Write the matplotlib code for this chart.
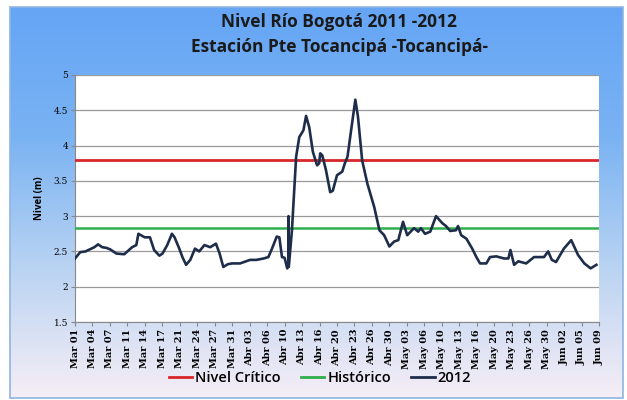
import numpy as np
import matplotlib.pyplot as plt
from matplotlib.colors import LinearSegmentedColormap
from matplotlib.lines import Line2D

# dias desde Mar 01 y nivel leido (m)
dias = [0, 1, 2, 3.7, 4.4, 5.2, 6, 6.7, 7.9, 9.4, 10, 10.9, 11.7, 12.1, 13.3, 14.3,
        15.1, 16.1, 16.7, 17.6, 18.5, 19, 19.9, 20.5, 21.2, 22, 22.9, 23.7, 24.7, 25.8,
        26.9, 27.6, 28.3, 29.2, 30, 31.5, 33.4, 34.6, 36, 36.9, 37.6, 38.5, 39, 39.5,
        40, 40.5, 40.7, 40.75, 40.8, 41.4, 42.2, 42.8, 43.3, 43.6, 44.1, 44.7, 45.4,
        46.2, 46.6, 46.8, 47.2, 47.9, 48.7, 49.2, 50, 51, 51.5, 52, 52.7, 53.5, 54,
        54.8, 55.8, 57.1, 58.1, 59, 60, 60.9, 61.7, 62.6, 63.4, 64.7, 65.5, 66, 66.8,
        67.8, 68.9, 70.1, 70.8, 71.6, 72.7, 73.1, 73.7, 74.7, 75.8, 76.6, 77.3, 78.5,
        79.2, 80.4, 81.9, 82.7, 83.1, 83.8, 84.6, 86.1, 87.6, 89.5, 90.3, 91, 91.8,
        93.3, 94.7, 96, 97.2, 98.4, 99.5]
nivel = [2.40, 2.49, 2.50, 2.56, 2.60, 2.56, 2.55, 2.53, 2.47, 2.46, 2.50, 2.56, 2.59,
         2.75, 2.70, 2.70, 2.52, 2.44, 2.47, 2.59, 2.75, 2.70, 2.54, 2.42, 2.31, 2.38,
         2.54, 2.50, 2.59, 2.56, 2.61, 2.47, 2.28, 2.32, 2.33, 2.33, 2.38, 2.38, 2.40,
         2.42, 2.54, 2.71, 2.70, 2.42, 2.41, 2.26, 2.30, 3.00, 2.28, 2.80, 3.84, 4.12,
         4.18, 4.22, 4.42, 4.26, 3.91, 3.72, 3.75, 3.89, 3.86, 3.65, 3.34, 3.36, 3.58,
         3.63, 3.75, 3.84, 4.22, 4.65, 4.41, 3.79, 3.46, 3.13, 2.80, 2.73, 2.57, 2.64,
         2.66, 2.92, 2.73, 2.83, 2.78, 2.83, 2.75, 2.78, 3.00, 2.90, 2.86, 2.79, 2.80,
         2.86, 2.73, 2.68, 2.54, 2.42, 2.33, 2.33, 2.42, 2.43, 2.40, 2.40, 2.52, 2.31,
         2.36, 2.33, 2.42, 2.42, 2.50, 2.38, 2.35, 2.54, 2.66, 2.45, 2.33, 2.26, 2.31]

nivel_critico = 3.8
historico = 2.83

etiquetas = ["Mar 01", "Mar 04", "Mar 07", "Mar 11", "Mar 14", "Mar 17", "Mar 21",
             "Mar 24", "Mar 27", "Mar 31", "Abr 03", "Abr 06", "Abr 10", "Abr 13",
             "Abr 16", "Abr 20", "Abr 23", "Abr 26", "Abr 30", "May 03", "May 06",
             "May 10", "May 13", "May 16", "May 20", "May 23", "May 26", "May 30",
             "Jun 02", "Jun 05", "Jun 09"]

fig = plt.figure(figsize=(6.27, 4.0), dpi=100)
fig.patch.set_facecolor("white")

# fondo degradado del marco
bg = fig.add_axes([10 / 627, 2 / 400, 613 / 627, 391 / 400])
cmap = LinearSegmentedColormap.from_list(
    "fondo", ["#65a5f5", "#7ab3f3", "#b9d3f2", "#f6eef6"])
grad = np.linspace(0, 1, 256).reshape(-1, 1)
bg.imshow(grad, aspect="auto", cmap=cmap, extent=[0, 1, 0, 1], origin="upper")
bg.set_axis_off()
fig.add_artist(plt.Rectangle((10 / 627, 2 / 400), 613 / 627, 391 / 400,
                             transform=fig.transFigure, fill=False,
                             edgecolor="#8fb4e0", linewidth=1.2))

ax = fig.add_axes([75 / 627, 78 / 400, 524 / 627, 247 / 400])
ax.set_facecolor("white")

ax.axhline(nivel_critico, color="#d8262a", linewidth=2, zorder=3)
ax.axhline(historico, color="#2fae4b", linewidth=1.8, zorder=3)
ax.plot(dias, nivel, color="#1e2d4a", linewidth=1.9, zorder=4)

ax.set_xlim(0, 100)
ax.set_ylim(1.5, 5)
ax.set_yticks(np.arange(1.5, 5.01, 0.5))
ax.set_yticklabels(["1.5", "2", "2.5", "3", "3.5", "4", "4.5", "5"],
                   family="DejaVu Serif", fontsize=6.5)
ax.grid(axis="y", color="#9a9a9a", linewidth=0.9)
ax.set_axisbelow(True)

pos = [i * 10 / 3 for i in range(len(etiquetas))]
ax.set_xticks(pos)
ax.set_xticklabels(etiquetas, rotation=90, family="DejaVu Serif",
                   fontsize=7, fontweight="bold")
ax.tick_params(axis="both", direction="out", length=3, color="#888888", pad=2)

for s in ["top", "right"]:
    ax.spines[s].set_visible(False)
ax.spines["left"].set_color("#888888")
ax.spines["bottom"].set_color("#888888")

ax.set_ylabel("Nivel (m)", fontsize=7, fontweight="bold", family="Open Sans", labelpad=6)

fig.text(339 / 627, 1 - 22 / 400, "Nivel Río Bogotá 2011 -2012", ha="center", va="center",
         fontsize=12.5, fontweight="bold", family="Open Sans", color="#1a1a1a")
fig.text(339 / 627, 1 - 47 / 400, "Estación Pte Tocancipá -Tocancipá-", ha="center",
         va="center", fontsize=12.5, fontweight="bold", family="Open Sans", color="#1a1a1a")

handles = [Line2D([], [], color="#d8262a", lw=2),
           Line2D([], [], color="#2fae4b", lw=2),
           Line2D([], [], color="#1e2d4a", lw=2)]
fig.legend(handles, ["Nivel Crítico", "Histórico", "2012"], loc="center",
           bbox_to_anchor=(320 / 627, 1 - 378 / 400), ncol=3, frameon=False,
           prop={"family": "Open Sans", "weight": "semibold", "size": 10.5},
           handlelength=1.6, handletextpad=0.2, columnspacing=1.4)

fig.savefig("out.png", dpi=100)
